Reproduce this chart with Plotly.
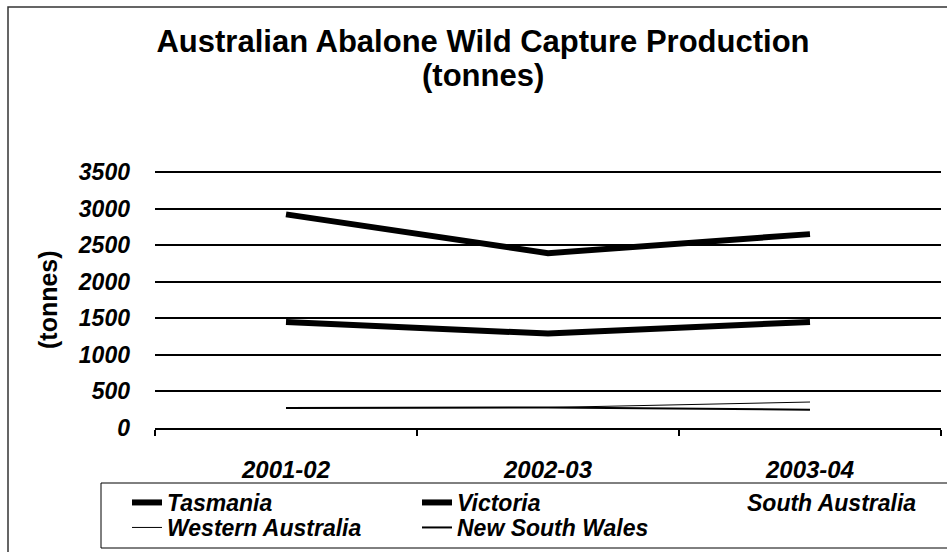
import plotly.graph_objects as go

# Production by state, tonnes
years = ["2001-02", "2002-03", "2003-04"]
tasmania = [2920, 2390, 2650]
victoria = [1450, 1290, 1450]
south_australia = [None, None, None]
western_australia = [275, 280, 355]
new_south_wales = [275, 280, 250]
y_ticks = [0, 500, 1000, 1500, 2000, 2500, 3000, 3500]
y_top = 3540

W, H = 947, 552
L, R, T, B = 155, 6, 169, 124
PW, PH = W - L - R, H - T - B


def px_x(p):
    return (p - L) / PW


def px_y(p):
    return (H - B - p) / PH


FONT = "Liberation Sans, Arial, sans-serif"
LEGEND_FONT = dict(family=FONT, size=23, weight="bold", style="italic", color="black")

fig = go.Figure()
series = [
    ("Tasmania", tasmania, "black", 6, "legend"),
    ("Victoria", victoria, "black", 6, "legend"),
    ("South Australia", south_australia, "white", 2, "legend"),
    ("Western Australia", western_australia, "black", 1, "legend2"),
    ("New South Wales", new_south_wales, "black", 2, "legend2"),
]
for name, vals, color, width, leg in series:
    fig.add_trace(go.Scatter(
        x=years, y=vals, name=name, mode="lines",
        line=dict(color=color, width=width),
        legend=leg,
    ))

legend_common = dict(
    orientation="h", xanchor="left", yanchor="top",
    bgcolor="rgba(0,0,0,0)", borderwidth=0,
    font=LEGEND_FONT,
    entrywidth=245, entrywidthmode="pixels",
    traceorder="normal",
)

fig.update_layout(
    width=W, height=H,
    margin=dict(l=L, r=R, t=T, b=B, autoexpand=False),
    paper_bgcolor="white", plot_bgcolor="white",
    font=dict(family=FONT, color="black"),
    title=dict(
        text="Australian Abalone Wild Capture Production",
        x=483 / W, xanchor="center", y=1 - 41 / H, yanchor="middle",
        font=dict(family=FONT, size=31, weight="bold", color="black"),
    ),
    showlegend=True,
    legend=dict(x=px_x(127), y=px_y(481), **legend_common),
    legend2=dict(x=px_x(127), y=px_y(506), **legend_common),
)

fig.update_xaxes(
    type="category", range=[-0.5, 2.5],
    showline=True, linecolor="black", linewidth=1.5,
    ticks="outside", tickson="boundaries", ticklen=6,
    tickcolor="black", tickwidth=1.5,
    showgrid=False, zeroline=False,
    tickfont=dict(family=FONT, size=24, weight="bold", style="italic", color="black"),
    ticklabelstandoff=19,
)
fig.update_yaxes(
    range=[0, y_top], tickvals=y_ticks,
    showgrid=True, gridcolor="black", gridwidth=1.5,
    zeroline=False, showline=False, ticks="",
    tickfont=dict(family=FONT, size=23, weight="bold", style="italic", color="black"),
    ticklabelstandoff=24,
)

# second title line and the rotated axis caption
fig.add_annotation(
    text="(tonnes)", xref="paper", yref="paper",
    x=px_x(483), y=px_y(75), xanchor="center", yanchor="middle",
    showarrow=False,
    font=dict(family=FONT, size=31, weight="bold", color="black"),
)
fig.add_annotation(
    text="(tonnes)", xref="paper", yref="paper",
    x=px_x(48), y=px_y(300), xanchor="center", yanchor="middle",
    textangle=-90, showarrow=False,
    font=dict(family=FONT, size=25, weight="bold", color="black"),
)

# frame around the whole chart
fig.add_shape(
    type="rect", xref="paper", yref="paper",
    x0=px_x(8), x1=px_x(960), y0=px_y(570), y1=px_y(7),
    line=dict(color="#333", width=1.5), fillcolor="rgba(0,0,0,0)",
    layer="below",
)
# box around the legend rows
fig.add_shape(
    type="rect", xref="paper", yref="paper",
    x0=px_x(101), x1=px_x(960), y0=px_y(548), y1=px_y(483),
    line=dict(color="black", width=1), fillcolor="rgba(0,0,0,0)",
    layer="below",
)

fig.write_html("out.html")
